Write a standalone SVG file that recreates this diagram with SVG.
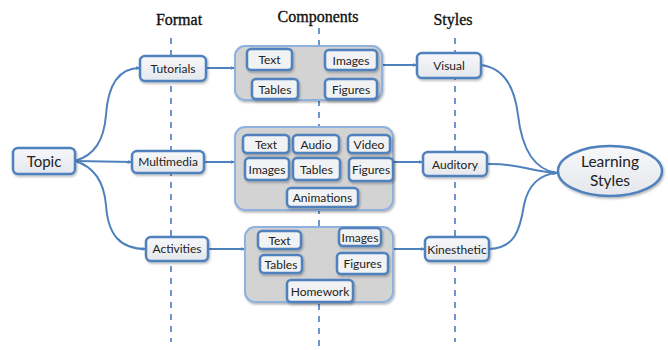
<svg xmlns="http://www.w3.org/2000/svg" width="668" height="350" viewBox="0 0 668 350">
<defs>
<marker id="arr" viewBox="0 0 10 10" refX="9" refY="5" markerWidth="5" markerHeight="5" orient="auto" markerUnits="userSpaceOnUse">
<path d="M0,1 L10,5 L0,9 z" fill="#4f81bd"/>
</marker>
<linearGradient id="ng" x1="0" y1="0" x2="0" y2="1">
<stop offset="0" stop-color="#f7f8fa"/><stop offset="1" stop-color="#e4e7ec"/>
</linearGradient>
<filter id="sh" x="-20%" y="-20%" width="140%" height="150%">
<feDropShadow dx="1" dy="1.5" stdDeviation="1" flood-color="#000" flood-opacity="0.3"/>
</filter>
</defs>
<style>
.hdr{font-family:"Liberation Serif","Times New Roman",serif;font-size:16px;fill:#111;stroke:#111;stroke-width:0.35;text-anchor:middle}
.dash{stroke:#6e95cf;stroke-width:2;stroke-dasharray:6 6;fill:none}
.node{fill:url(#ng);stroke:#4f81bd;stroke-width:2.5;filter:url(#sh)}
.comp{fill:#d3d3d3;stroke:#8fb1e0;stroke-width:2;filter:url(#sh)}
.item{fill:#f1f2f4;stroke:#4f81bd;stroke-width:2.5;filter:url(#sh)}
.t{font-family:Lato,"Liberation Sans",sans-serif;font-size:12px;fill:#222;text-anchor:middle}
.tb{font-family:Lato,"Liberation Sans",sans-serif;font-size:15px;fill:#222;text-anchor:middle}
.c{stroke:#4f81bd;stroke-width:2;fill:none;marker-end:url(#arr)}
</style>
<rect width="668" height="350" fill="#fff"/>
<g id="headers">
<text class="hdr" x="179" y="25">Format</text>
<text class="hdr" x="318" y="22">Components</text>
<text class="hdr" x="453" y="25">Styles</text>
</g>
<g id="guides">
<line class="dash" x1="171" y1="38" x2="171" y2="342"/>
<line class="dash" x1="319" y1="28" x2="319" y2="350"/>
<line class="dash" x1="455" y1="38" x2="455" y2="342"/>
</g>
<g id="connectors">
<path class="c" d="M75,161 C95,155 104,140 106,115 C108,85 118,68 140,68"/>
<path class="c" d="M75,161 L132,162"/>
<path class="c" d="M75,161 C95,167 104,182 106,205 C108,235 120,249 146,249"/>
<path class="c" d="M206,68 L235,68"/>
<path class="c" d="M204,162 L235,162"/>
<path class="c" d="M208,249 L245,249"/>
<path class="c" d="M382,65 L417,65"/>
<path class="c" d="M393,162 L423,162"/>
<path class="c" d="M393,249 L425,249"/>
<path class="c" d="M481,65 C505,68 515,90 518,115 C522,150 535,170 557,173"/>
<path class="c" d="M487,164 C520,163 530,172 557,173"/>
<path class="c" d="M489,249 C515,248 520,230 524,205 C528,185 540,174 557,173"/>
</g>
<g id="topic">
<rect class="node" x="13" y="148" width="62" height="26" rx="5"/>
<text class="tb" x="44" y="166.5">Topic</text>
</g>
<g id="tutorials">
<rect class="node" x="140" y="56" width="66" height="25" rx="5"/>
<text class="t" x="173" y="72.5">Tutorials</text>
</g>
<g id="multimedia">
<rect class="node" x="132" y="151" width="72" height="22" rx="5"/>
<text class="t" x="168" y="166">Multimedia</text>
</g>
<g id="activities">
<rect class="node" x="146" y="237" width="62" height="24" rx="5"/>
<text class="t" x="177" y="253">Activities</text>
</g>
<g id="components-tutorials">
<rect class="comp" x="235" y="46" width="147" height="54" rx="10"/>
<rect class="item" x="247" y="49" width="45" height="21" rx="4"/><text class="t" x="269.5" y="63.5">Text</text>
<rect class="item" x="325" y="50" width="52" height="20" rx="4"/><text class="t" x="351" y="64.5">Images</text>
<rect class="item" x="252" y="79" width="46" height="20" rx="4"/><text class="t" x="275" y="93.5">Tables</text>
<rect class="item" x="325" y="79" width="52" height="20" rx="4"/><text class="t" x="351" y="93.5">Figures</text>
</g>
<g id="components-multimedia">
<rect class="comp" x="235" y="127" width="158" height="83" rx="10"/>
<rect class="item" x="243" y="135" width="46" height="18" rx="4"/><text class="t" x="266" y="148.5">Text</text>
<rect class="item" x="293" y="135" width="46" height="18" rx="4"/><text class="t" x="316" y="148.5">Audio</text>
<rect class="item" x="348" y="135" width="42" height="18" rx="4"/><text class="t" x="369" y="148.5">Video</text>
<rect class="item" x="245" y="158" width="44" height="22" rx="4"/><text class="t" x="267" y="173.5">Images</text>
<rect class="item" x="293" y="158" width="47" height="22" rx="4"/><text class="t" x="316.5" y="173.5">Tables</text>
<rect class="item" x="349" y="158" width="44" height="23" rx="4"/><text class="t" x="371" y="174">Figures</text>
<rect class="item" x="287" y="188" width="71" height="19" rx="4"/><text class="t" x="322.5" y="202">Animations</text>
</g>
<g id="components-activities">
<rect class="comp" x="245" y="227" width="148" height="75" rx="10"/>
<rect class="item" x="258" y="231" width="43" height="18" rx="4"/><text class="t" x="279.5" y="244.5">Text</text>
<rect class="item" x="339" y="228" width="42" height="18" rx="4"/><text class="t" x="360" y="241.5">Images</text>
<rect class="item" x="260" y="255" width="42" height="18" rx="4"/><text class="t" x="281" y="268.5">Tables</text>
<rect class="item" x="337" y="253" width="51" height="21" rx="4"/><text class="t" x="362.5" y="268">Figures</text>
<rect class="item" x="287" y="280" width="66" height="22" rx="4"/><text class="t" x="320" y="295.5">Homework</text>
</g>
<g id="visual">
<rect class="node" x="417" y="53" width="64" height="25" rx="5"/>
<text class="t" x="449" y="70">Visual</text>
</g>
<g id="auditory">
<rect class="node" x="423" y="152" width="64" height="24" rx="5"/>
<text class="t" x="455" y="168.5">Auditory</text>
</g>
<g id="kinesthetic">
<rect class="node" x="425" y="237" width="64" height="24" rx="5"/>
<text class="t" x="457" y="253.5">Kinesthetic</text>
</g>
<g id="learning-styles">
<ellipse class="node" cx="610" cy="171" rx="52" ry="25"/>
<text class="tb" x="610" y="167" style="font-size:15.5px">Learning</text>
<text class="tb" x="610" y="186" style="font-size:15.5px">Styles</text>
</g>
</svg>
